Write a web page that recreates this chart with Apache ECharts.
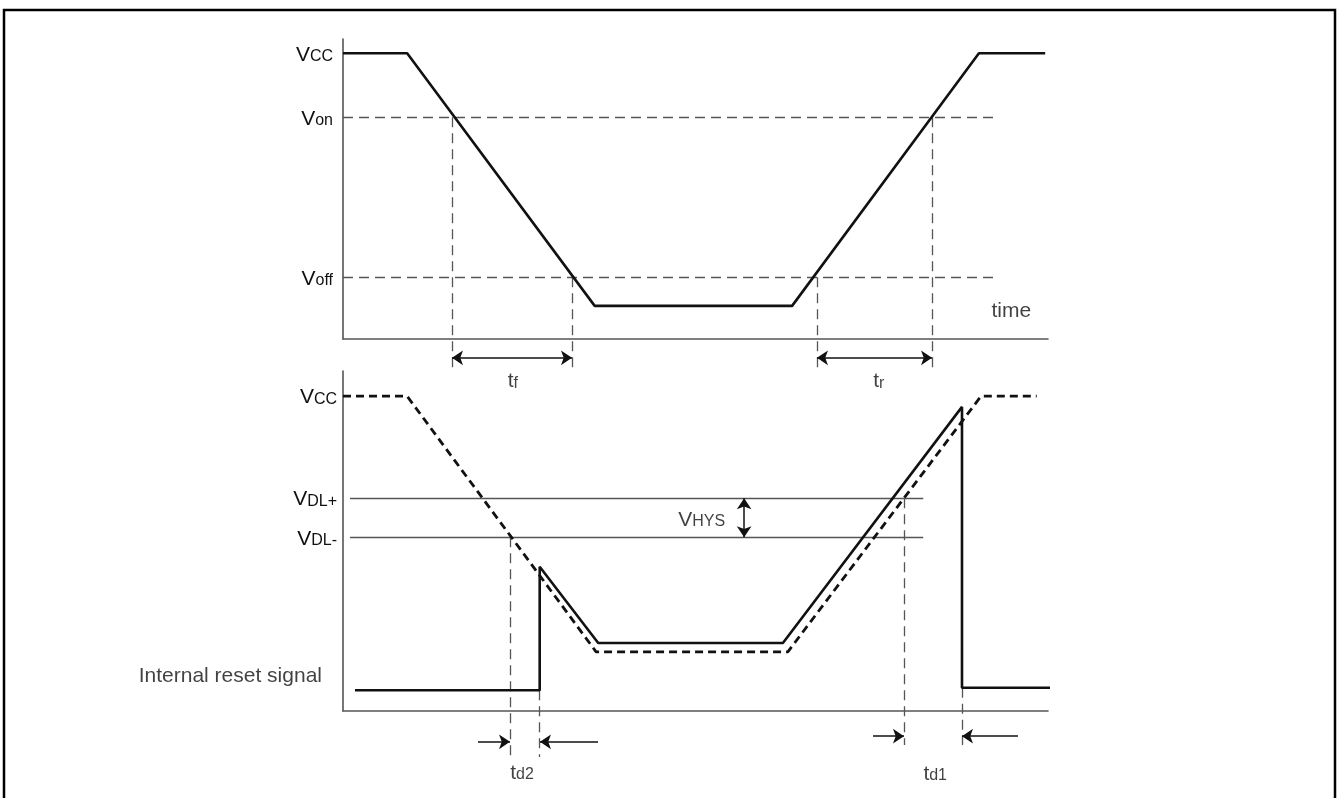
<!DOCTYPE html>
<html>
<head>
<meta charset="utf-8">
<title>Low voltage detection timing</title>
<script src="https://cdn.jsdelivr.net/npm/echarts@6/dist/echarts.min.js"></script>
<style>
html, body { margin: 0; padding: 0; background: #fff; }
#chart { width: 1340px; height: 798px; }
</style>
</head>
<body>
<div id="chart"></div>
<script>
// ---- upper panel: supply voltage ----
var topLevelNames = ['CC', 'on', 'off'];
var topLevelValues = [5.0, 3.88, 1.08];
var vccTime = [0, 9.1, 35.7, 63.7, 90.2, 99.6];
var vccVolt = [5.0, 5.0, 0.58, 0.58, 5.0, 5.0];
var thresholdEnd = [92.2, 92.5];            // Von / Voff dashed line ends
var topCrossTime = [15.46, 32.48, 67.23, 83.55];
var topCrossVolt = [3.88, 1.08, 1.08, 3.88];
var topCrossEnd = -0.58;
var tfSpan = [15.46, 32.48];
var trSpan = [67.23, 83.55];
var topArrowY = -0.33;

// ---- lower panel: detection + internal reset ----
var botLevelNames = ['CC', 'DL+', 'DL-'];
var botLevelValues = [5.0, 3.38, 2.76];
var vccBotTime = [0, 9.1, 35.9, 63.1, 90.5, 98.4];
var vccBotVolt = [5.0, 5.0, 0.94, 0.94, 5.0, 5.0];
var resetTime = [1.7, 27.9, 27.9, 36.2, 62.4, 87.8, 87.8, 100.4];
var resetVolt = [0.33, 0.33, 2.29, 1.08, 1.08, 4.83, 0.37, 0.37];
var detectSpan = [1.0, 82.3];
var botCrossTime = [23.7, 27.9, 79.6, 87.8];
var botCrossVolt = [2.76, 0.33, 3.38, 0.37];
var botCrossEnd = [-0.73, -0.73, -0.54, -0.54];
var td2Arrows = [[19.15, 23.69], [36.17, 27.94]];
var td2ArrowY = -0.49;
var td1Arrows = [[75.18, 79.57], [95.74, 87.80]];
var td1ArrowY = -0.40;
var hysArrow = [56.9, 3.38, 2.76];

// text annotations: [text, time, volt, panel, side]
var notes = [
  ['{t|t}{s|f}', 24.1, -0.72, 0, 'c'],
  ['{t|t}{s|r}', 76.0, -0.72, 0, 'c'],
  ['{t|time}', 94.8, 0.51, 0, 'c'],
  ['{t|V}{s|HYS}', 54.2, 3.05, 1, 'r'],
  ['{t|Internal reset signal}', -2.98, 0.57, 1, 'r'],
  ['{t|t}{s|d2}', 25.4, -0.97, 1, 'c'],
  ['{t|t}{s|d1}', 84.0, -0.98, 1, 'c']
];

var FONT = '"Liberation Sans", Arial, sans-serif';
var INK = '#111';
var GRAY = '#555';

var richText = {
  t: { fontSize: 21, fontFamily: FONT, color: INK, verticalAlign: 'bottom', lineHeight: 24 },
  s: { fontSize: 16, fontFamily: FONT, color: INK, verticalAlign: 'bottom', lineHeight: 24, padding: [0, 0, 1, 0] }
};
var levelRich = {
  v: { fontSize: 21, fontFamily: FONT, color: INK, verticalAlign: 'bottom', lineHeight: 24 },
  s: { fontSize: 16, fontFamily: FONT, color: INK, verticalAlign: 'bottom', lineHeight: 24, padding: [0, 0, 1, 0] }
};

function zip(a, b) {
  var out = [];
  for (var i = 0; i < a.length; i++) out.push([a[i], b[i]]);
  return out;
}

function levelFormatter(names, values) {
  return function (val) {
    for (var i = 0; i < values.length; i++) {
      if (Math.abs(values[i] - val) < 1e-6) return '{v|V}{s|' + names[i] + '}';
    }
    return '';
  };
}

var chart = echarts.init(document.getElementById('chart'));

// dashed helper segments
var topDashed = [
  { coords: [[0, topLevelValues[1]], [thresholdEnd[0], topLevelValues[1]]] },
  { coords: [[0, topLevelValues[2]], [thresholdEnd[1], topLevelValues[2]]] }
];
topCrossTime.forEach(function (t, i) {
  topDashed.push({ coords: [[t, topCrossVolt[i]], [t, topCrossEnd]] });
});
var botDashed = botCrossTime.map(function (t, i) {
  return { coords: [[t, botCrossVolt[i]], [t, botCrossEnd[i]]] };
});

var detectLines = [
  { coords: [[detectSpan[0], botLevelValues[1]], [detectSpan[1], botLevelValues[1]]] },
  { coords: [[detectSpan[0], botLevelValues[2]], [detectSpan[1], botLevelValues[2]]] }
];

var topArrows = [
  { coords: [[tfSpan[0], topArrowY], [tfSpan[1], topArrowY]] },
  { coords: [[trSpan[0], topArrowY], [trSpan[1], topArrowY]] }
];
var botArrows = [
  { coords: [[td2Arrows[0][0], td2ArrowY], [td2Arrows[0][1], td2ArrowY]] },
  { coords: [[td2Arrows[1][0], td2ArrowY], [td2Arrows[1][1], td2ArrowY]] },
  { coords: [[td1Arrows[0][0], td1ArrowY], [td1Arrows[0][1], td1ArrowY]] },
  { coords: [[td1Arrows[1][0], td1ArrowY], [td1Arrows[1][1], td1ArrowY]] }
];

function noteSeries(panel) {
  var data = [];
  notes.forEach(function (n) {
    if (n[3] !== panel) return;
    data.push({
      value: [n[1], n[2]],
      name: n[0],
      label: n[4] === 'r' ? { position: 'left', distance: 0 } : { position: 'inside' }
    });
  });
  return {
    type: 'scatter', xAxisIndex: panel, yAxisIndex: panel,
    symbolSize: 0, clip: false, silent: true,
    label: { show: true, color: INK, formatter: function (p) { return p.name; }, rich: richText },
    data: data
  };
}

function axisPair(idx, vmax, names, values, margin) {
  return {
    x: {
      type: 'value', gridIndex: idx, min: 0, max: 100,
      axisLine: { show: true, onZero: false, lineStyle: { color: GRAY, width: 1.6 } },
      axisTick: { show: false }, axisLabel: { show: false }, splitLine: { show: false }
    },
    y: {
      type: 'value', gridIndex: idx, min: 0, max: vmax,
      axisLine: { show: true, onZero: false, lineStyle: { color: GRAY, width: 1.6 } },
      axisTick: { show: false }, splitLine: { show: false },
      axisLabel: {
        show: true, margin: margin, color: INK, customValues: values,
        formatter: levelFormatter(names, values), rich: levelRich
      }
    }
  };
}

var a0 = axisPair(0, 5.25, topLevelNames, topLevelValues, 10);
var a1 = axisPair(1, 5.4, botLevelNames, botLevelValues, 6);

var option = {
  animation: false,
  backgroundColor: '#fff',
  graphic: [{
    type: 'rect', silent: true,
    shape: { x: 4, y: 10, width: 1331, height: 800 },
    style: { fill: 'none', stroke: '#000', lineWidth: 2.5 }
  }],
  grid: [
    { left: 343, top: 39, width: 705, height: 300 },
    { left: 343, top: 371, width: 705, height: 340 }
  ],
  xAxis: [a0.x, a1.x],
  yAxis: [a0.y, a1.y],
  series: [
    {
      name: 'VCC', type: 'line', xAxisIndex: 0, yAxisIndex: 0,
      symbol: 'none', clip: false, silent: true,
      lineStyle: { color: INK, width: 2.6 },
      data: zip(vccTime, vccVolt)
    },
    {
      type: 'lines', coordinateSystem: 'cartesian2d', xAxisIndex: 0, yAxisIndex: 0,
      clip: false, silent: true, symbol: 'none',
      lineStyle: { color: GRAY, width: 1.3, type: [10, 6], opacity: 1 },
      data: topDashed
    },
    {
      type: 'lines', coordinateSystem: 'cartesian2d', xAxisIndex: 0, yAxisIndex: 0,
      clip: false, silent: true, symbol: ['arrow', 'arrow'], symbolSize: 11,
      lineStyle: { color: INK, width: 1.5, opacity: 1 },
      data: topArrows
    },
    noteSeries(0),
    {
      name: 'VCC (lower)', type: 'line', xAxisIndex: 1, yAxisIndex: 1,
      symbol: 'none', clip: false, silent: true,
      lineStyle: { color: INK, width: 2.8, type: [8, 5] },
      data: zip(vccBotTime, vccBotVolt)
    },
    {
      type: 'lines', coordinateSystem: 'cartesian2d', xAxisIndex: 1, yAxisIndex: 1,
      clip: false, silent: true, symbol: 'none',
      lineStyle: { color: GRAY, width: 1.4, opacity: 1 },
      data: detectLines
    },
    {
      name: 'Internal reset', type: 'line', xAxisIndex: 1, yAxisIndex: 1,
      symbol: 'none', clip: false, silent: true,
      lineStyle: { color: INK, width: 2.6 },
      data: zip(resetTime, resetVolt)
    },
    {
      type: 'lines', coordinateSystem: 'cartesian2d', xAxisIndex: 1, yAxisIndex: 1,
      clip: false, silent: true, symbol: 'none',
      lineStyle: { color: GRAY, width: 1.3, type: [10, 6], opacity: 1 },
      data: botDashed
    },
    {
      type: 'lines', coordinateSystem: 'cartesian2d', xAxisIndex: 1, yAxisIndex: 1,
      clip: false, silent: true, symbol: ['none', 'arrow'], symbolSize: 11,
      lineStyle: { color: INK, width: 1.5, opacity: 1 },
      data: botArrows
    },
    {
      type: 'lines', coordinateSystem: 'cartesian2d', xAxisIndex: 1, yAxisIndex: 1,
      clip: false, silent: true, symbol: ['arrow', 'arrow'], symbolSize: 11,
      lineStyle: { color: INK, width: 1.5, opacity: 1 },
      data: [{ coords: [[hysArrow[0], hysArrow[1]], [hysArrow[0], hysArrow[2]]] }]
    },
    noteSeries(1)
  ]
};

chart.setOption(option);
</script>
</body>
</html>
